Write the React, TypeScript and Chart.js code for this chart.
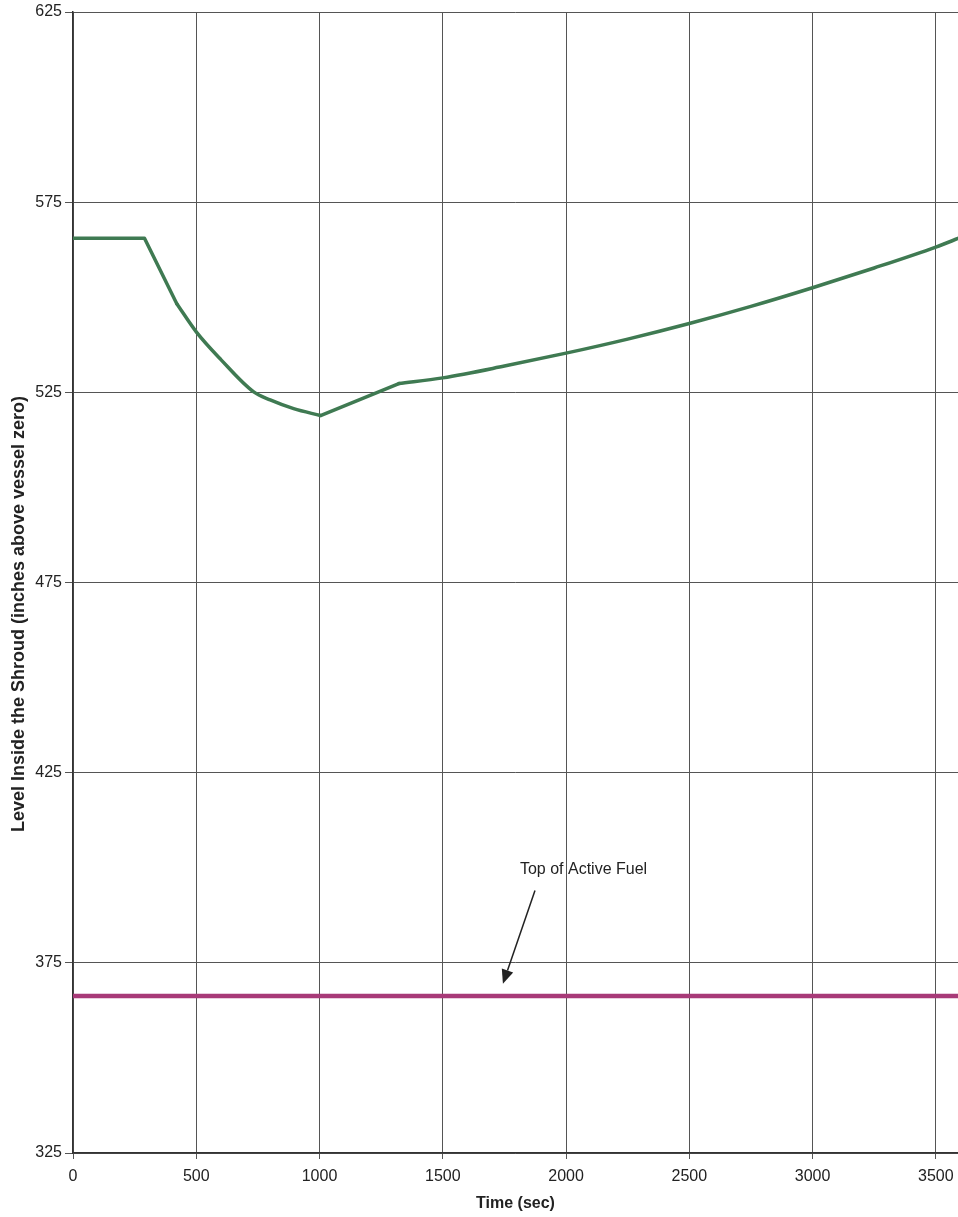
import React, { useEffect, useRef } from "react";
import { Chart, registerables } from "chart.js";

Chart.register(...registerables);

const levelTime = [0, 290, 421, 500, 600, 733, 800, 895, 1004, 1322, 1500, 1750, 2000, 2250, 2500, 2750, 3000, 3250, 3500, 3600];
const levelValue = [565.5, 565.5, 548.3, 540.9, 533.6, 525.1, 523.0, 520.7, 518.9, 527.3, 528.8, 531.9, 535.3, 539.0, 543.1, 547.6, 552.5, 557.7, 563.2, 565.7];
// index ranges of the level curve: [start, end, smooth]
const levelSegments: [number, number, boolean][] = [[0, 2, false], [2, 8, true], [8, 9, false], [9, 19, true]];
const tafTime = [0, 3600];
const tafValue = [366.3, 366.3];

const xTickValues = [0, 500, 1000, 1500, 2000, 2500, 3000, 3500];
const yTickValues = [325, 375, 425, 475, 525, 575, 625];

const annotationText = "Top of Active Fuel";
const annotationTextAt = [1813, 399.5];
const arrowFrom = [1874, 394];
const arrowTo = [1744, 369.5];

const xTitle = "Time (sec)";
const yTitle = "Level Inside the Shroud (inches above vessel zero)";

const FONT = "'Liberation Sans', Arial, sans-serif";
const GREEN = "#3f7a52";

const annotationPlugin = {
  id: "tafAnnotation",
  afterDatasetsDraw(chart: any) {
    const ctx = chart.ctx;
    const xs = chart.scales.x;
    const ys = chart.scales.y;
    ctx.save();
    ctx.fillStyle = "#222";
    ctx.font = "16px " + FONT;
    ctx.textAlign = "left";
    ctx.textBaseline = "middle";
    ctx.fillText(annotationText, xs.getPixelForValue(annotationTextAt[0]), ys.getPixelForValue(annotationTextAt[1]));
    const x1 = xs.getPixelForValue(arrowFrom[0]);
    const y1 = ys.getPixelForValue(arrowFrom[1]);
    const x2 = xs.getPixelForValue(arrowTo[0]);
    const y2 = ys.getPixelForValue(arrowTo[1]);
    const ang = Math.atan2(y2 - y1, x2 - x1);
    const headLen = 14;
    const headW = 6;
    const bx = x2 - headLen * Math.cos(ang);
    const by = y2 - headLen * Math.sin(ang);
    ctx.strokeStyle = "#222";
    ctx.lineWidth = 1.5;
    ctx.beginPath();
    ctx.moveTo(x1, y1);
    ctx.lineTo(bx, by);
    ctx.stroke();
    ctx.beginPath();
    ctx.moveTo(x2, y2);
    ctx.lineTo(bx + headW * Math.sin(ang), by - headW * Math.cos(ang));
    ctx.lineTo(bx - headW * Math.sin(ang), by + headW * Math.cos(ang));
    ctx.closePath();
    ctx.fill();

    ctx.save();
    ctx.translate(19, 614);
    ctx.rotate(-Math.PI / 2);
    ctx.font = "bold 18px " + FONT;
    ctx.textAlign = "center";
    ctx.textBaseline = "middle";
    ctx.fillText(yTitle, 0, 0);
    ctx.restore();
    ctx.restore();
  },
};

export default function App() {
  const ref = useRef<HTMLCanvasElement>(null);
  useEffect(() => {
    if (!ref.current) return;
    const levelSets = levelSegments.map(([s, e, smooth]) => ({
      data: levelTime.slice(s, e + 1).map((t, i) => ({ x: t, y: levelValue[s + i] })),
      borderColor: GREEN,
      borderWidth: 3.5,
      borderCapStyle: "round",
      borderJoinStyle: "round",
      pointRadius: 0,
      tension: smooth ? 0.4 : 0,
      cubicInterpolationMode: smooth ? "monotone" : "default",
    }));
    const chart = new Chart(ref.current, {
      type: "line",
      data: {
        datasets: [
          ...levelSets,
          {
            data: tafTime.map((t, i) => ({ x: t, y: tafValue[i] })),
            borderColor: "#a83a78",
            borderWidth: 4.5,
            pointRadius: 0,
          },
        ],
      },
      options: {
        animation: false,
        responsive: false,
        maintainAspectRatio: false,
        layout: { padding: { top: 12, right: 0, left: 0, bottom: 0 } },
        plugins: { legend: { display: false }, tooltip: { enabled: false } },
        scales: {
          x: {
            type: "linear",
            min: 0,
            max: 3590,
            afterBuildTicks(scale: any) { scale.ticks = xTickValues.map((v) => ({ value: v })); },
            ticks: { color: "#222", font: { family: FONT, size: 16 }, padding: 8, maxRotation: 0, autoSkip: false, callback: (v: any) => String(v) },
            grid: { color: "#555", lineWidth: 1, tickLength: 6 },
            border: { color: "#333", width: 1.5 },
            title: { display: true, text: xTitle, color: "#222", font: { family: FONT, size: 16, weight: "bold" }, padding: { top: 14 } },
            afterFit(scale: any) { scale.height = 64; scale.paddingRight = 0; scale.paddingLeft = 0; },
          },
          y: {
            min: 325,
            max: 625,
            afterBuildTicks(scale: any) { scale.ticks = yTickValues.map((v) => ({ value: v })); },
            ticks: { color: "#222", font: { family: FONT, size: 16 }, padding: 3, autoSkip: false, callback: (v: any) => String(v) },
            grid: { color: "#555", lineWidth: 1, tickLength: 8 },
            border: { color: "#333", width: 1.5 },
            afterFit(scale: any) { scale.width = 73; scale.paddingTop = 0; scale.paddingBottom = 0; },
          },
        },
      },
      plugins: [annotationPlugin],
    } as any);
    return () => chart.destroy();
  }, []);
  return (
    <div style={{ position: "fixed", left: 0, top: 0, width: 958, height: 1217, background: "#fff" }}>
      <canvas ref={ref} width={958} height={1217} style={{ display: "block" }} />
    </div>
  );
}
